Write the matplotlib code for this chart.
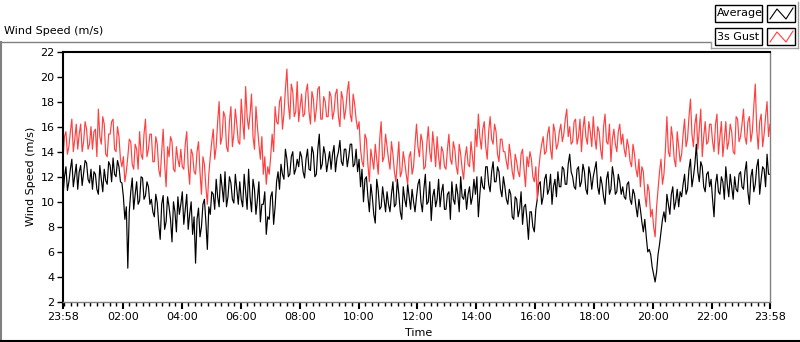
import matplotlib
matplotlib.use('Agg')
import matplotlib.pyplot as plt
import numpy as np
from matplotlib.patches import Rectangle
from matplotlib.lines import Line2D

# minutes from midnight, samples every 6 minutes (23:58 -> 23:58)
# plus in-between samples (3 minutes later)
step_min = 6
start_min = -2

average = [
	10.4, 12.8, 11.6, 13.4, 12.1, 11.0, 12.9, 12.3, 13.1, 11.5,
	11.0, 12.2, 10.6, 11.8, 12.6, 11.4, 12.9, 13.5, 12.0, 12.8,
	11.5, 8.6, 4.7, 10.8, 9.4, 11.6, 10.1, 11.9, 10.5, 11.2,
	10.2, 8.8, 9.9, 7.0, 10.5, 8.4, 9.6, 6.8, 9.2, 10.4,
	9.8, 8.2, 10.6, 9.0, 7.4, 5.1, 9.5, 8.0, 10.2, 6.2,
	9.0, 10.6, 11.8, 9.6, 11.2, 12.4, 10.4, 11.5, 9.9, 11.0,
	11.6, 9.6, 10.8, 12.6, 9.2, 11.0, 10.2, 8.4, 9.8, 7.4,
	8.6, 10.8, 9.6, 12.4, 13.0, 11.8, 13.4, 12.2, 14.0, 12.6,
	12.8, 13.6, 11.9, 14.2, 12.5, 13.9, 12.2, 15.4, 13.0, 13.8,
	13.2, 12.6, 14.5, 13.5, 14.9, 12.9, 14.2, 13.6, 14.6, 13.0,
	12.4, 11.2, 10.0, 12.0, 9.2, 10.4, 8.3, 10.9, 9.6, 10.2,
	10.8, 9.2, 11.6, 9.8, 10.6, 8.6, 10.2, 11.4, 9.4, 10.0,
	10.4, 11.8, 9.2, 12.2, 10.0, 8.5, 11.0, 10.2, 9.6, 11.4,
	9.4, 10.8, 11.6, 9.8, 10.6, 12.0, 10.2, 9.4, 11.2, 10.4,
	10.6, 8.8, 12.0, 11.0, 12.8, 10.8, 13.2, 11.6, 12.4, 10.4,
	11.2, 9.8, 10.6, 8.6, 10.2, 9.4, 8.2, 9.8, 7.0, 9.2,
	7.6, 10.2, 11.6, 10.4, 12.2, 11.0, 9.8, 11.8, 12.4, 11.2,
	12.6, 11.4, 13.8, 12.0, 11.0, 12.8, 11.6, 12.4, 10.6, 12.2,
	12.0, 13.2, 10.6, 11.4, 9.8, 12.4, 11.0, 12.0, 10.8, 11.6,
	11.2, 10.2, 11.6, 9.8, 10.6, 8.8, 9.4, 7.6, 7.2, 6.2,
	4.8, 3.6, 5.8, 7.6, 9.2, 10.6, 9.0, 11.2, 10.0, 9.6,
	10.4, 12.2, 11.0, 13.4, 12.0, 14.6, 11.6, 12.8, 10.8, 12.4,
	11.8, 8.8, 12.2, 10.6, 11.6, 12.8, 10.4, 11.2, 12.0, 10.8,
	12.4, 11.0, 13.2, 9.8, 12.6, 11.4, 13.4, 11.8, 12.6, 13.8,
	12.2,
]

average_mid = [
	12.0, 10.9, 12.6, 11.2, 13.0, 12.4, 11.3, 13.3, 11.8, 12.6,
	12.4, 11.0, 12.9, 10.8, 11.7, 13.2, 11.6, 12.2, 13.3, 11.6,
	10.4, 9.6, 9.2, 11.9, 10.6, 9.8, 12.0, 10.2, 11.6, 9.8,
	9.2, 10.6, 8.2, 9.8, 7.8, 10.4, 8.6, 10.0, 7.6, 9.0,
	10.8, 9.4, 7.8, 10.0, 8.8, 8.6, 7.2, 9.8, 8.4, 9.6,
	10.8, 9.4, 10.4, 12.2, 10.0, 9.6, 12.0, 10.2, 12.2, 9.8,
	10.2, 12.2, 9.4, 10.4, 11.8, 9.0, 11.6, 9.8, 10.8, 8.8,
	10.4, 8.2, 11.6, 11.0, 12.2, 14.2, 12.0, 13.6, 12.2, 13.4,
	14.0, 12.4, 13.4, 12.6, 14.4, 12.0, 14.2, 12.6, 14.4, 12.4,
	14.0, 13.8, 12.4, 14.0, 13.2, 14.2, 12.8, 14.6, 12.8, 14.2,
	13.4, 12.6, 11.8, 10.4, 11.4, 9.0, 11.8, 9.4, 11.2, 9.2,
	9.8, 10.6, 9.6, 11.8, 9.2, 11.2, 9.6, 10.4, 11.0, 9.2,
	11.4, 10.0, 11.0, 9.8, 11.6, 10.4, 9.6, 11.8, 10.8, 9.4,
	10.6, 8.6, 10.2, 11.4, 9.2, 10.4, 11.0, 10.6, 9.8, 11.8,
	12.0, 10.6, 11.2, 12.8, 11.4, 12.4, 11.6, 12.8, 11.0, 12.0,
	10.2, 11.0, 8.8, 10.4, 8.8, 10.8, 9.6, 8.6, 9.2, 8.0,
	9.4, 11.4, 9.8, 11.8, 10.6, 12.2, 11.2, 10.4, 11.2, 12.8,
	11.4, 13.0, 12.4, 11.2, 12.6, 11.2, 13.0, 11.0, 12.8, 11.0,
	12.6, 11.2, 12.0, 10.4, 11.8, 10.6, 12.8, 10.6, 12.2, 10.6,
	10.4, 11.4, 10.2, 11.0, 9.6, 10.2, 8.4, 8.6, 6.0, 5.8,
	4.2, 4.4, 6.6, 8.6, 8.4, 9.8, 10.6, 9.4, 11.0, 10.8,
	11.4, 10.6, 12.6, 11.2, 13.0, 12.4, 13.2, 11.2, 12.2, 11.2,
	10.2, 11.4, 10.8, 12.0, 10.2, 11.4, 12.2, 10.2, 11.0, 12.2,
	11.2, 12.4, 10.8, 12.0, 10.8, 12.8, 10.6, 12.8, 11.2, 12.2,
]

gust = [
	13.4, 15.6, 14.4, 16.6, 15.0, 14.2, 16.2, 14.8, 15.8, 14.6,
	14.2, 15.8, 17.4, 14.6, 16.2, 13.6, 15.4, 16.6, 14.0, 15.2,
	12.8, 11.6, 13.6, 14.8, 12.6, 14.2, 15.6, 13.4, 16.6, 14.2,
	15.4, 13.2, 14.6, 12.0, 15.8, 11.2, 13.6, 14.8, 12.4, 13.4,
	14.2, 12.6, 15.6, 11.4, 13.8, 12.2, 14.8, 10.6, 13.0, 9.8,
	13.6, 15.8, 14.4, 18.0, 15.2, 16.8, 14.0, 17.6, 15.4, 16.2,
	14.6, 16.4, 19.2, 15.8, 18.6, 14.2, 16.0, 13.4, 12.2, 11.4,
	12.2, 15.4, 17.6, 16.2, 18.4, 17.0, 20.6, 16.6, 18.8, 17.2,
	16.4, 18.6, 17.0, 19.4, 16.2, 18.2, 17.4, 19.2, 16.6, 18.0,
	16.8, 18.4, 17.2, 19.0, 16.0, 18.2, 17.4, 19.6, 16.4, 17.8,
	15.8, 14.2, 12.8, 15.0, 11.6, 13.4, 14.6, 12.2, 16.4, 13.6,
	14.4, 12.6, 13.8, 11.6, 14.8, 12.4, 13.2, 11.4, 14.0, 12.8,
	16.2, 13.6, 14.8, 12.8, 16.0, 13.2, 14.4, 15.2, 12.6, 14.0,
	12.6, 15.4, 13.0, 14.2, 12.2, 13.8, 11.8, 14.4, 12.8, 13.6,
	15.8, 17.0, 14.2, 16.4, 13.4, 16.8, 14.6, 15.6, 13.2, 15.0,
	14.0, 12.6, 13.6, 11.8, 13.2, 12.0, 14.2, 11.2, 12.8, 13.4,
	11.6, 10.2, 13.8, 15.2, 14.0, 16.0, 13.4, 15.6, 14.6, 16.2,
	15.4, 17.4, 16.0, 14.8, 16.6, 15.2, 14.0, 16.8, 14.6, 15.6,
	16.8, 14.2, 15.6, 13.4, 17.0, 14.6, 13.2, 15.8, 14.0, 16.2,
	15.4, 13.6, 14.4, 12.8, 13.8, 12.0, 11.2, 12.4, 9.6, 10.8,
	9.4, 7.2, 11.0, 13.4, 12.2, 16.8, 13.6, 15.0, 12.8, 14.4,
	13.8, 16.6, 15.0, 18.2, 14.4, 17.0, 15.8, 13.6, 16.4, 14.8,
	16.2, 14.0, 17.0, 15.2, 13.6, 16.4, 14.8, 15.6, 13.8, 16.6,
	15.2, 17.4, 14.6, 16.8, 15.6, 19.4, 14.2, 17.0, 15.4, 18.0,
	16.2,
]

gust_mid = [
	15.2, 13.8, 15.6, 14.0, 16.2, 15.4, 14.0, 16.4, 14.2, 16.0,
	15.6, 13.6, 15.2, 16.8, 13.8, 15.4, 16.4, 14.2, 16.0, 13.4,
	13.6, 12.4, 15.0, 13.0, 14.6, 12.6, 13.8, 15.4, 13.6, 15.4,
	13.2, 15.2, 12.6, 14.0, 13.0, 14.4, 15.2, 12.6, 14.4, 12.8,
	12.8, 14.6, 12.8, 14.2, 12.4, 14.0, 12.4, 13.6, 11.2, 12.2,
	14.8, 13.4, 16.4, 14.6, 17.2, 14.4, 16.4, 14.4, 17.4, 14.8,
	18.2, 15.0, 16.8, 17.0, 15.2, 17.6, 14.6, 15.2, 13.6, 12.8,
	13.6, 14.0, 16.4, 18.0, 15.8, 19.0, 17.8, 19.4, 16.8, 19.6,
	17.6, 16.8, 18.8, 17.2, 18.8, 16.4, 19.0, 16.6, 18.4, 16.8,
	18.8, 16.6, 18.6, 16.8, 18.8, 16.6, 18.8, 17.0, 18.6, 16.6,
	16.4, 13.2, 15.4, 13.0, 14.2, 12.6, 13.4, 15.0, 13.2, 15.4,
	13.4, 14.8, 12.4, 13.2, 12.0, 14.0, 12.2, 13.6, 12.2, 14.6,
	14.4, 15.4, 12.6, 14.6, 14.0, 15.6, 12.8, 13.6, 14.4, 12.8,
	14.2, 13.4, 14.8, 12.8, 14.6, 12.6, 13.6, 13.0, 14.8, 12.4,
	14.4, 15.2, 15.8, 14.4, 15.6, 15.0, 16.2, 13.8, 15.0, 14.0,
	13.2, 14.6, 12.4, 13.8, 12.4, 13.8, 12.6, 13.6, 14.0, 12.0,
	12.8, 12.6, 14.6, 13.8, 15.4, 14.2, 16.2, 14.2, 15.6, 14.8,
	16.6, 15.2, 14.6, 16.4, 14.6, 16.6, 15.8, 15.2, 16.4, 14.4,
	15.2, 16.0, 14.2, 16.0, 14.8, 16.2, 15.0, 14.6, 15.6, 14.6,
	14.2, 15.0, 13.2, 14.6, 12.6, 13.4, 12.8, 10.6, 11.4, 8.8,
	8.0, 9.6, 12.4, 11.4, 14.2, 14.0, 16.0, 13.4, 15.6, 13.2,
	15.4, 14.4, 16.8, 15.4, 16.2, 14.2, 17.4, 15.2, 14.6, 16.2,
	14.8, 16.2, 13.8, 16.4, 15.0, 14.2, 16.2, 14.0, 16.8, 14.8,
	16.2, 15.2, 16.4, 14.8, 17.6, 15.8, 16.4, 14.4, 16.8, 15.2,
]

major_ticks = [-2, 120, 240, 360, 480, 600, 720, 840, 960, 1080, 1200, 1320, 1438]
major_labels = ['23:58', '02:00', '04:00', '06:00', '08:00', '10:00', '12:00',
	'14:00', '16:00', '18:00', '20:00', '22:00', '23:58']


def interleave(main, mid):
	out = []
	for i, v in enumerate(main):
		out.append(v)
		if i < len(mid):
			out.append(mid[i])
	return np.array(out)


W, H = 800, 342
fig = plt.figure(figsize=(W / 100, H / 100), dpi=100)
fig.patch.set_facecolor('white')

def px(x, y):
	return x / W, 1 - y / H

x0, y0 = px(63, 302)
x1, y1 = px(770, 51.5)
ax = fig.add_axes([x0, y0, x1 - x0, y1 - y0])

avg_all = interleave(average, average_mid)
gust_all = interleave(gust, gust_mid)
t = start_min + (step_min / 2) * np.arange(len(avg_all))
ax.plot(t, avg_all, color='black', lw=0.85)
ax.plot(t, gust_all, color='#ff4040', lw=0.85)

ax.set_xlim(-2, 1438)
ax.set_ylim(2, 22)
ax.set_yticks(np.arange(2, 23, 2))
ax.set_xticks(major_ticks)
ax.set_xticklabels(major_labels)
minor = np.concatenate([np.arange(120, -2, -40 / 3), np.arange(120, 1438, 40 / 3)])
ax.set_xticks(minor, minor=True)

ax.tick_params(axis='both', labelsize=8, colors='black')
ax.tick_params(axis='x', which='major', length=5, width=1.5, pad=2)
ax.tick_params(axis='x', which='minor', length=3, width=1)
ax.tick_params(axis='y', length=4, width=1, pad=2)

ax.spines['top'].set_linewidth(1.5)
ax.spines['left'].set_linewidth(1.5)
ax.spines['bottom'].set_color('#808080')
ax.spines['right'].set_color('#808080')
ax.spines['bottom'].set_linewidth(1)
ax.spines['right'].set_linewidth(1)

ax.set_xlabel('Time', fontsize=8)
ax.set_ylabel('Wind Speed (m/s)', fontsize=8, labelpad=3)
ax.xaxis.set_label_coords(0.503, -0.105)

fig.text(4 / W, 1 - 31 / H, 'Wind Speed (m/s)', fontsize=8, va='center', ha='left')

# outer frame
fig.add_artist(Line2D([0, 710 / W], [1 - 42 / H] * 2, color='#808080', lw=1))
fig.add_artist(Line2D([0.5 / W] * 2, [1 - 42 / H, 0], color='#808080', lw=1.5))
fig.add_artist(Line2D([0, 1], [0.7 / H] * 2, color='black', lw=1.5))

# legend
fig.add_artist(Line2D([711 / W, 798 / W], [1 - 48 / H] * 2, color='#a0a0a0', lw=1))
fig.add_artist(Line2D([711 / W] * 2, [1 - 48 / H, 1 - 42 / H], color='#a0a0a0', lw=1))
fig.add_artist(Line2D([798 / W] * 2, [1 - 48 / H, 1 - 2 / H], color='#a0a0a0', lw=1))
for row, (name, col) in enumerate([('Average', 'black'), ('3s Gust', '#ff4040')]):
	top = 5 + row * 23
	bx, by = px(715, top + 17)
	fig.add_artist(Rectangle((bx, by), 47 / W, 17 / H, transform=fig.transFigure,
		facecolor='white', edgecolor='black', lw=1))
	fig.text(717 / W, 1 - (top + 8.5) / H, name, fontsize=8, va='center', ha='left')
	sx, sy = px(767, top + 17)
	fig.add_artist(Rectangle((sx, sy), 28 / W, 17 / H, transform=fig.transFigure,
		facecolor='white', edgecolor='black', lw=1))
	zx = [770, 777, 786, 793]
	zy = [top + 14, top + 4, top + 14, top + 3]
	fig.add_artist(Line2D([v / W for v in zx], [1 - v / H for v in zy], color=col, lw=0.8))

fig.savefig('out.png', dpi=100)
